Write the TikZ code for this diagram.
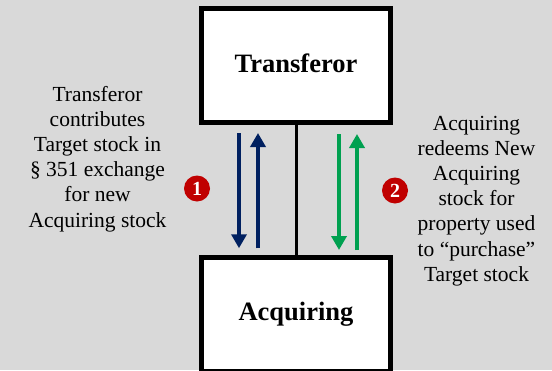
\documentclass[tikz,border=0pt]{standalone}
\usepackage{fontspec}
\setmainfont{Liberation Serif}
\usetikzlibrary{arrows.meta}
\definecolor{bggray}{HTML}{D9D9D9}
\definecolor{navy}{HTML}{002060}
\definecolor{flowgreen}{HTML}{00A050}
\definecolor{markred}{HTML}{C00000}
\begin{document}
\begin{tikzpicture}[x=1pt, y=-1pt,
    party/.style={draw, fill=white, line width=4.5pt, minimum width=189pt, inner sep=0pt, font=\fontsize{26.5}{30}\selectfont\bfseries},
    flow/.style={line width=3.5pt, -{Triangle[length=14pt, width=15pt]}},
    marker/.style={circle, fill=markred, text=white, inner sep=0pt, minimum size=26pt, font=\fontsize{20}{20}\selectfont\bfseries},
    note/.style={align=center, inner sep=0pt, font=\fontsize{21.5}{25.1}\selectfont}]
    \useasboundingbox (0,0) rectangle (552,370);
    \fill[bggray] (0,0) rectangle (552,370);
    \node[party, minimum height=114pt, text depth=5pt] (transferor) at (296,65.5) {Transferor};
    \node[party, minimum height=113.5pt] (acquiring) at (296,314.25) {Acquiring};
    \path[line width=3pt] (transferor) edge (acquiring);
    \draw[flow, navy] ([xshift=-57pt, yshift=-8.25pt]transferor.south) -- ([xshift=-57pt, yshift=7pt]acquiring.north);
    \draw[flow, navy] ([xshift=-38pt, yshift=7pt]acquiring.north) -- ([xshift=-38pt, yshift=-8.25pt]transferor.south);
    \draw[flow, flowgreen] ([xshift=43pt, yshift=-9.25pt]transferor.south) -- ([xshift=43pt, yshift=5.25pt]acquiring.north);
    \draw[flow, flowgreen] ([xshift=61pt, yshift=5.25pt]acquiring.north) -- ([xshift=61pt, yshift=-9.25pt]transferor.south);
    \node[marker] (one) at (197,188.5) {1};
    \node[marker] (two) at (395,190.5) {2};
    \node[note] (contribution) at (97.5,159) {Transferor\\contributes\\Target stock in\\§~351 exchange\\for new\\Acquiring stock};
    \node[note] (redemption) at (476.5,201) {Acquiring\\redeems New\\Acquiring\\stock for\\property used\\to “purchase”\\Target stock};
\end{tikzpicture}
\end{document}
